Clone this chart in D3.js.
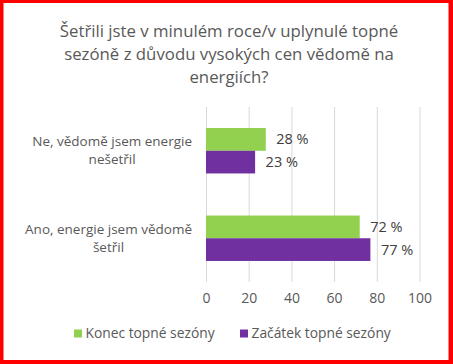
<!DOCTYPE html>
<html>
<head>
<meta charset="utf-8">
<script src="https://cdn.jsdelivr.net/npm/d3@7"></script>
<style>
html,body{margin:0;padding:0;background:#fff;}
svg{display:block;}
</style>
</head>
<body>
<script>
const titleLines = ["Šetřili jste v minulém roce/v uplynulé topné", "sezóně z důvodu vysokých cen vědomě na", "energiích?"];
const categories = ["Ne, vědomě jsem energie nešetřil", "Ano, energie jsem vědomě šetřil"];
const categoryLines = [["Ne, vědomě jsem energie", "nešetřil"], ["Ano, energie jsem vědomě", "šetřil"]];
const seriesNames = ["Konec topné sezóny", "Začátek topné sezóny"];
const konecValues = [28, 72];
const zacatekValues = [23, 77];
const xTicks = [0, 20, 40, 60, 80, 100];
const colors = ["#92D050", "#7030A0"];

const W = 453, H = 364;
const FONT = "'Open Sans', sans-serif";
const svg = d3.select("body").append("svg").attr("width", W).attr("height", H);

// border
svg.append("rect").attr("x", 0).attr("y", 0).attr("width", W).attr("height", H).attr("fill", "#FF0000");
svg.append("rect").attr("x", 3.5).attr("y", 3).attr("width", W - 8).attr("height", H - 7).attr("fill", "#fff");

// title
const title = svg.append("g");
titleLines.forEach((t, i) => {
  title.append("text").attr("x", 229).attr("y", 36.5 + i * 23).attr("text-anchor", "middle")
    .attr("font-family", FONT).attr("font-size", 16.8).attr("fill", "#595959").text(t);
});

const x = d3.scaleLinear().domain([0, 100]).range([206, 419.5]);
const y = d3.scaleBand().domain(categories).range([107, 282]).paddingInner(0.481).paddingOuter(0.2405);
const ys = d3.scaleBand().domain(seriesNames).range([0, y.bandwidth()]);

// gridlines
const xAxis = d3.axisBottom(x).tickValues(xTicks).tickSize(-(282 - 107)).tickPadding(10);
const ax = svg.append("g").attr("transform", "translate(0,282)").call(xAxis);
ax.select(".domain").remove();
ax.selectAll(".tick line").attr("stroke", "#D9D9D9").attr("stroke-width", 1);
ax.selectAll(".tick text").attr("font-family", FONT).attr("font-size", 14).attr("fill", "#595959").attr("dy", "0.75em");

// bars
const seriesValues = [konecValues, zacatekValues];
seriesNames.forEach((s, si) => {
  const g = svg.append("g");
  g.selectAll("rect").data(categories).join("rect")
    .attr("x", x(0))
    .attr("y", c => y(c) + ys(s))
    .attr("width", (c, i) => x(seriesValues[si][i]) - x(0))
    .attr("height", ys.bandwidth())
    .attr("fill", colors[si]);
  g.selectAll("text").data(categories).join("text")
    .attr("x", (c, i) => x(seriesValues[si][i]) + 10.5)
    .attr("y", c => y(c) + ys(s) + ys.bandwidth() / 2)
    .attr("dy", "0.35em")
    .attr("font-family", FONT).attr("font-size", 14.5).attr("fill", "#404040")
    .text((c, i) => seriesValues[si][i] + " %");
});

// category labels
categories.forEach((c, ci) => {
  const g = svg.append("g");
  const lines = categoryLines[ci];
  const texts = lines.map((l, li) => g.append("text")
    .attr("y", y(c) + y.bandwidth() / 2 + (li - (lines.length - 1) / 2) * 18)
    .attr("dy", "0.35em").attr("text-anchor", "middle")
    .attr("font-family", FONT).attr("font-size", 13.5).attr("fill", "#595959").text(l));
  const maxW = d3.max(texts, t => t.node().getComputedTextLength());
  texts.forEach(t => t.attr("x", 192 - maxW / 2));
});

// legend
const legend = svg.append("g");
const legendX = [74, 240];
seriesNames.forEach((s, si) => {
  legend.append("rect").attr("x", legendX[si]).attr("y", 329.5).attr("width", 8).attr("height", 8).attr("fill", colors[si]);
  legend.append("text").attr("x", legendX[si] + 11.5).attr("y", 333.5).attr("dy", "0.35em")
    .attr("font-family", FONT).attr("font-size", 13.8).attr("fill", "#595959").text(s);
});
</script>
</body>
</html>
